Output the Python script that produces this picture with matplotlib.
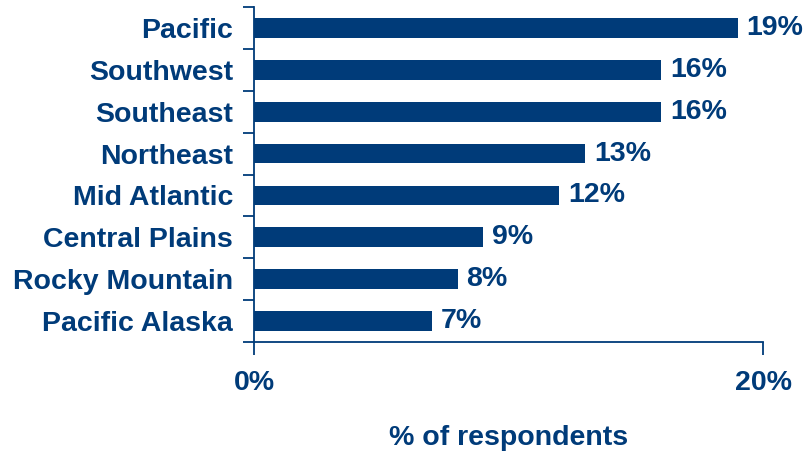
import numpy as np
import matplotlib.pyplot as plt
from matplotlib.ticker import FixedLocator

# survey share by region, top to bottom
regions = ['Pacific', 'Southwest', 'Southeast', 'Northeast', 'Mid Atlantic',
           'Central Plains', 'Rocky Mountain', 'Pacific Alaska']
pct = [19, 16, 16, 13, 12, 9, 8, 7]
xticks = [0, 20]
xticklabels = ['0%', '20%']

navy = '#003B79'
plt.rcParams['font.family'] = ['Liberation Sans', 'DejaVu Sans']
plt.rcParams['font.weight'] = 'bold'

fig = plt.figure(figsize=(8.07, 4.51), dpi=100)
ax = fig.add_axes([254/807, 1-342/451, 509/807, 335/451])

y = np.arange(len(regions))
ax.barh(y, pct, height=0.47, color=navy, edgecolor='none')
for yi, v in zip(y, pct):
    ax.text(v + 0.35, yi, '%d%%' % v, va='center', ha='left',
            fontsize=20.5, fontweight='bold', color=navy)

ax.set_xlim(0, 20)
ax.set_ylim(len(regions) - 0.5, -0.5)

ax.set_yticks(y)
ax.set_yticklabels(regions, fontsize=20.5, fontweight='bold', color=navy)
ax.tick_params(axis='y', which='major', length=0, pad=15)
ax.yaxis.set_minor_locator(FixedLocator(np.arange(-0.5, len(regions), 1)))
ax.tick_params(axis='y', which='minor', length=8, width=1.3, color=navy, direction='out')

ax.set_xticks(xticks)
ax.set_xticklabels(xticklabels, fontsize=20.5, fontweight='bold', color=navy)
ax.tick_params(axis='x', length=9, width=1.3, color=navy, direction='out', pad=11)

ax.set_xlabel('% of respondents', fontsize=20.5, fontweight='bold', color=navy, labelpad=21)

for s in ['top', 'right']:
    ax.spines[s].set_visible(False)
for s in ['left', 'bottom']:
    ax.spines[s].set_color(navy)
    ax.spines[s].set_linewidth(1.3)

fig.savefig('out.png', dpi=100)
